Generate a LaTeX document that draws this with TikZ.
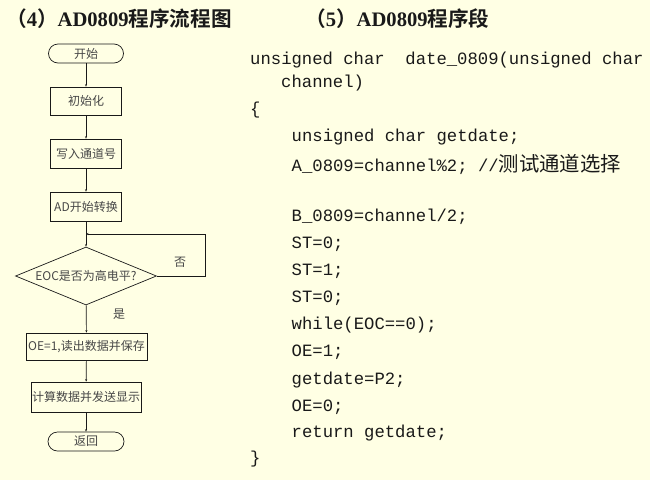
\documentclass[tikz,border=0pt]{standalone}
\usepackage{fontspec}
\setmainfont{Liberation Serif}
\setmonofont{Liberation Mono}
\newfontfamily\cjk{Noto Sans CJK SC}
\newfontfamily\cjkb{Noto Sans CJK SC Bold}
\newfontfamily\cjkcode[Scale=1.18]{Noto Sans CJK SC}
\usetikzlibrary{shapes.geometric,arrows.meta}
\definecolor{bg}{RGB}{255,255,228}
\definecolor{ink}{RGB}{25,25,25}
\begin{document}
\begin{tikzpicture}[x=1pt,y=-1pt,
  fbox/.style={draw=ink,line width=0.7pt,minimum height=28pt,inner sep=0pt,font=\cjk\fontsize{12}{13}\selectfont,text=ink!80},
  term/.style={fbox,rounded corners=9.5pt,minimum height=19pt},
  cond/.style={fbox,diamond,aspect=2.43,minimum width=141pt,minimum height=58pt},
  flow/.style={draw=ink,line width=0.7pt,-{Stealth[length=2.5pt,width=2pt]}},
  title/.style={anchor=west,inner sep=0pt,text=ink,font=\fontsize{20.6}{22}\selectfont},
  code/.style={anchor=west,inner sep=0pt,text=ink,font=\ttfamily\fontsize{17.25}{18}\selectfont}]
\fill[bg] (0,0) rectangle (650,480);
\useasboundingbox (0,0) rectangle (650,480);
% titles
\node[title] (t1) at (6,19) {{\cjkb （}\textbf{4}{\cjkb ）}\textbf{AD0809}{\cjkb 程序流程图}};
\node[title] (t2) at (305,19) {{\cjkb （}\textbf{5}{\cjkb ）}\textbf{AD0809}{\cjkb 程序段}};
% flowchart
\node[term,minimum width=75pt] (s) at (86,53.5) {开始};
\node[fbox,minimum width=71pt] (b1) at (86,101) {初始化};
\node[fbox,minimum width=71pt,minimum height=29pt] (b2) at (86,153.5) {写入通道号};
\node[fbox,minimum width=71pt,minimum height=29pt] (b3) at (86,206.5) {AD开始转换};
\node[cond] (d) at (86,276) {EOC是否为高电平?};
\node[fbox,minimum width=121pt,minimum height=27pt] (b4) at (86.5,346.5) {OE=1,读出数据并保存};
\node[fbox,minimum width=110pt,minimum height=30pt] (b5) at (86,397) {计算数据并发送显示};
\node[term,minimum width=76pt] (e) at (86,441.5) {返回};
\node[font=\cjk\fontsize{12}{13}\selectfont,text=ink!80,inner sep=0pt] (no) at (180,262) {否};
\node[font=\cjk\fontsize{12}{13}\selectfont,text=ink!80,inner sep=0pt] (yes) at (119,314) {是};
\coordinate (j) at (86,234);
\coordinate (r1) at (205,276);
\coordinate (r2) at (205,234);
\draw[flow] (s) -- (b1);
\draw[flow] (b1) -- (b2);
\draw[flow] (b2) -- (b3);
\draw[flow] (b3) -- (d);
\draw[flow] (d.east) -- (r1) -- (r2) -- (j);
\draw[flow] (d) -- (b4);
\draw[flow] (b4) -- (b5);
\draw[flow] (b5) -- (e);
% code
\node[code] (c1) at (250,60) {unsigned char\ \ date\_0809(unsigned char};
\node[code] (c2) at (281,83) {channel)};
\node[code] (c3) at (250,110) {\{};
\node[code] (c4) at (291.5,137) {unsigned char getdate;};
\node[code] (c5) at (291.5,164) {A\_0809=channel\%2; //{\cjkcode 测试通道选择}};
\node[code] (c6) at (291.5,217) {B\_0809=channel/2;};
\node[code] (c7) at (291.5,244) {ST=0;};
\node[code] (c8) at (291.5,271) {ST=1;};
\node[code] (c9) at (291.5,298) {ST=0;};
\node[code] (c10) at (291.5,325) {while(EOC==0);};
\node[code] (c11) at (291.5,352) {OE=1;};
\node[code] (c12) at (291.5,380) {getdate=P2;};
\node[code] (c13) at (291.5,407) {OE=0;};
\node[code] (c14) at (291.5,433) {return getdate;};
\node[code] (c15) at (250,459) {\}};
\end{tikzpicture}
\end{document}
